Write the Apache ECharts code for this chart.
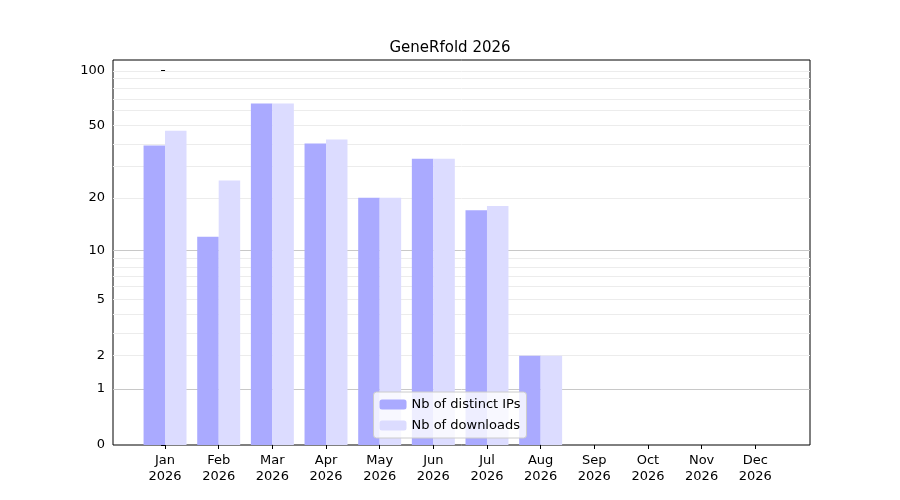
<!DOCTYPE html>
<html><head><meta charset="utf-8">
<script src="https://cdn.jsdelivr.net/npm/echarts@6/dist/echarts.min.js"></script>
<style>html,body{margin:0;background:#fff}#c{width:900px;height:500px}</style>
</head><body><div id="c"></div>
<script>
var months = ['Jan','Feb','Mar','Apr','May','Jun','Jul','Aug','Sep','Oct','Nov','Dec'];
var year = '2026';
var ips = [39, 12, 66, 40, 20, 33, 17, 2];
var downloads = [47, 25, 66, 42, 20, 33, 18, 2];
var tickValues = [0, 1, 2, 5, 10, 20, 50, 100];
var majorGrid = [1, 10];
var minorGrid = [2,3,4,5,6,7,8,9,20,30,40,50,60,70,80,90,100];

// symlog-like transform: log10(1 + v)
function tf(v){ return Math.log10(1 + v); }
function toData(arr, off){
    return arr.map(function(v, i){ return [i + off, tf(v)]; });
}
var gridLines = [];
minorGrid.forEach(function(v){ gridLines.push({yAxis: tf(v), lineStyle: {color: '#ececec', width: 1, type: 'solid'}}); });
majorGrid.forEach(function(v){ gridLines.push({yAxis: tf(v), lineStyle: {color: '#c8c8c8', width: 1, type: 'solid'}}); });

var chart = echarts.init(document.getElementById('c'));
chart.setOption({
    animation: false,
    textStyle: {fontFamily: 'DejaVu Sans'},
    title: {text: 'GeneRfold ' + year, left: 'center', top: 36,
        textStyle: {fontSize: 15, fontWeight: 'normal', color: '#000', fontFamily: 'DejaVu Sans'}},
    grid: {left: 113, right: 90, top: 60, bottom: 55, show: true, borderColor: '#000', borderWidth: 1},
    legend: {left: 'center', top: 392, orient: 'vertical', itemWidth: 27, itemHeight: 10, itemGap: 8,
        borderColor: '#ccc', borderWidth: 1, borderRadius: 3, padding: [6, 6],
        backgroundColor: 'rgba(255,255,255,0.8)',
        textStyle: {fontSize: 13, color: '#000'}},
    xAxis: {type: 'value', min: -0.97, max: 12.02,
        axisLine: {show: false}, splitLine: {show: false},
        axisTick: {show: true, customValues: months.map(function(m, i){ return i; }), lineStyle: {color: '#000'}, length: 4},
        axisLabel: {customValues: months.map(function(m, i){ return i; }), color: '#000', fontSize: 13, lineHeight: 16,
            formatter: function(v){ return months[Math.round(v)] + '\n' + year; }}},
    yAxis: {type: 'value', min: 0, max: 2.059,
        axisLine: {show: false}, splitLine: {show: false},
        axisTick: {show: true, customValues: tickValues.map(tf), lineStyle: {color: '#000'}, length: 4},
        axisLabel: {customValues: tickValues.map(tf), color: '#000', fontSize: 13,
            formatter: function(v){ return String(Math.round(Math.pow(10, v) - 1)); }}},
    series: [
        {name: 'Nb of distinct IPs', type: 'bar', data: toData(ips, -0.2), barWidth: 21.5, barGap: '-100%',
            itemStyle: {color: '#aaaaff'}, z: 3,
            markLine: {silent: true, symbol: 'none', label: {show: false}, data: gridLines, z: 1}},
        {name: 'Nb of downloads', type: 'bar', data: toData(downloads, 0.2), barWidth: 21.5, barGap: '-100%',
            itemStyle: {color: '#dcdcff'}, z: 3}
    ]
});
</script></body></html>
